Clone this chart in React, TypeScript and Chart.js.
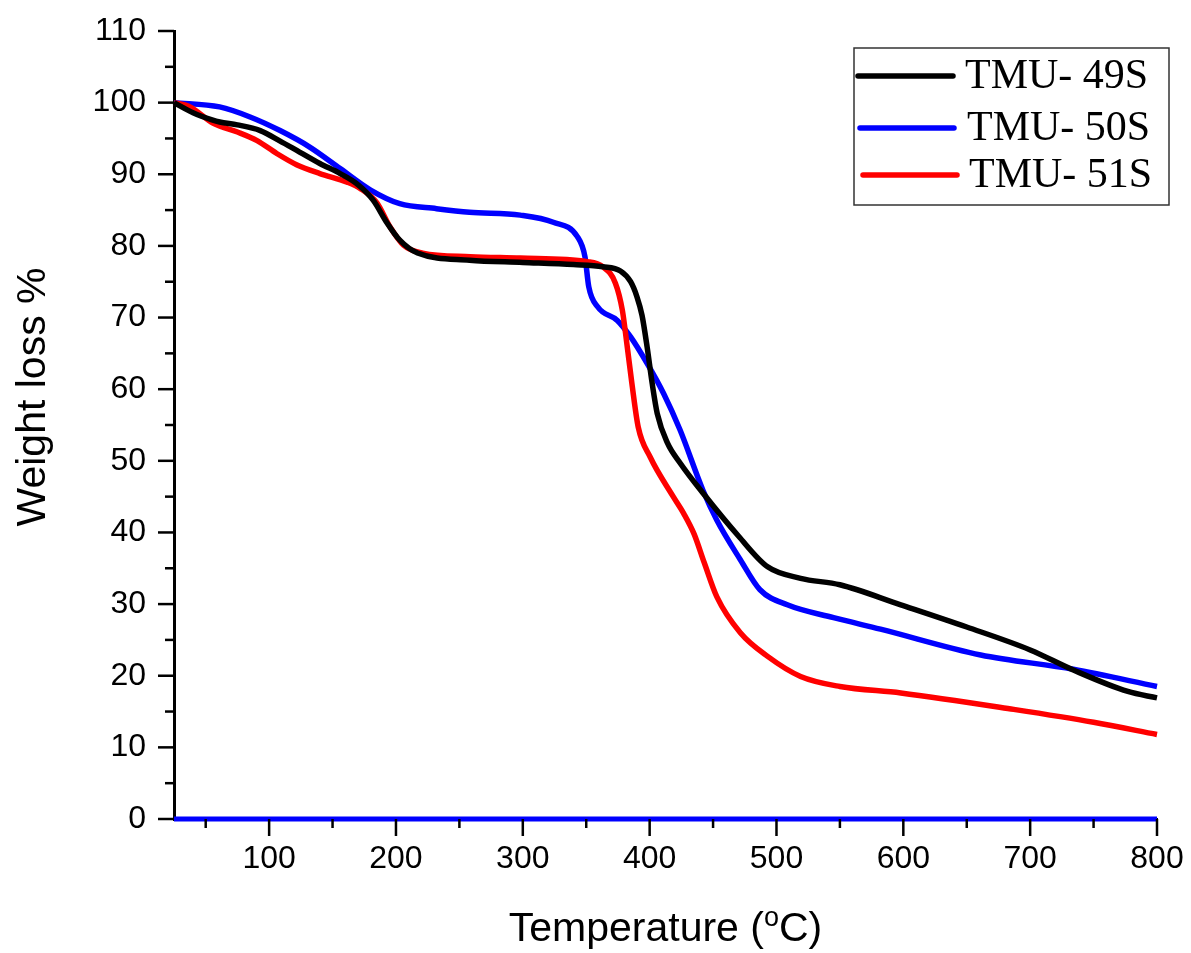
import React, { useEffect, useRef } from "react";
import { Chart, registerables } from "chart.js";

Chart.register(...registerables);

// ---- data ----
const xTickValues = [100, 200, 300, 400, 500, 600, 700, 800];
const yTickValues = [0, 10, 20, 30, 40, 50, 60, 70, 80, 90, 100, 110];

const tmu49Temp = [25, 40, 55, 61, 75, 93, 108, 124, 140, 156, 169, 182, 193, 203, 217, 258, 300, 340, 363, 377, 385, 390, 394, 398, 402, 406, 414, 424, 442, 470, 493, 519, 550, 598, 650, 700, 734, 777, 800];
const tmu49Weight = [100, 98.6, 97.6, 97.3, 96.9, 96.1, 94.7, 93.1, 91.5, 90.1, 88.7, 86.4, 83.2, 80.8, 79.0, 78.0, 77.7, 77.4, 77.1, 76.5, 75.0, 72.9, 70.3, 65.9, 60.8, 56.6, 52.5, 49.7, 45.5, 39.5, 35.2, 33.6, 32.7, 29.9, 26.8, 23.6, 20.8, 17.8, 16.9];

const tmu50Temp = [25, 61, 85, 108.6, 132, 156, 180, 203, 232, 258, 298, 324, 343, 349, 352, 359, 374.5, 385, 398, 411, 424, 442, 453, 471.5, 487, 508.5, 545, 582, 661, 734, 800];
const tmu50Weight = [100, 99.4, 98.0, 96.1, 93.8, 90.8, 87.8, 85.9, 85.2, 84.7, 84.3, 83.3, 81.3, 78.5, 74.3, 71.5, 69.6, 67.3, 63.6, 59.4, 54.3, 45.9, 41.7, 36.2, 32.0, 29.9, 28.1, 26.5, 22.9, 20.9, 18.5];

const tmu51Temp = [25, 37.6, 56, 75, 90.5, 106, 122, 140, 161.5, 172, 185, 195.5, 206, 221, 258.5, 298, 351, 363, 373, 378.5, 382, 386, 391, 400.5, 418.6, 427, 435, 443, 453, 471.5, 493, 519, 550, 598, 687, 750, 800];
const tmu51Weight = [100, 99.4, 97.1, 95.9, 94.7, 92.9, 91.3, 90.1, 88.9, 88.0, 86.0, 82.6, 80.1, 79.0, 78.5, 78.3, 77.8, 77.1, 74.8, 71.0, 66.4, 60.8, 54.7, 50.5, 45.0, 42.6, 39.8, 35.8, 31.0, 26.0, 22.7, 19.9, 18.5, 17.6, 15.3, 13.5, 11.8];

const baselineTemp = [25, 800];
const baselineWeight = [0, 0];

const seriesLabels = ["TMU- 49S", "TMU- 50S", "TMU- 51S"];
const seriesColors = ["#000000", "#0000ff", "#ff0000"];

const X_MIN = 25;
const X_MAX = 800;
const Y_MIN = 0;
const Y_MAX = 110;

const SANS = "'Liberation Sans', Arial, sans-serif";
const SERIF = "'Liberation Serif', 'Times New Roman', serif";

function pairs(t: number[], w: number[]) {
  return t.map((x, i) => ({ x, y: w[i] }));
}

const decorPlugin = {
  id: "decor",
  afterDraw(chart: any) {
    const { ctx, chartArea } = chart;
    const xs = chart.scales.x;
    const ys = chart.scales.y;
    ctx.save();
    ctx.strokeStyle = "#000";
    ctx.lineWidth = 2.5;
    ctx.lineCap = "butt";
    // x ticks (major every 100, minor every 50)
    for (let v = 50; v <= X_MAX; v += 50) {
      if (v < X_MIN) continue;
      const px = xs.getPixelForValue(v);
      const len = v % 100 === 0 ? 17 : 9;
      ctx.beginPath();
      ctx.moveTo(px, chartArea.bottom);
      ctx.lineTo(px, chartArea.bottom + len);
      ctx.stroke();
    }
    // y ticks (major every 10, minor every 5)
    for (let v = Y_MIN; v <= Y_MAX; v += 5) {
      const py = ys.getPixelForValue(v);
      const len = v % 10 === 0 ? 16 : 9;
      ctx.beginPath();
      ctx.moveTo(chartArea.left - len, py);
      ctx.lineTo(chartArea.left, py);
      ctx.stroke();
    }

    // y axis title
    ctx.fillStyle = "#000";
    ctx.save();
    ctx.translate(45, 397);
    ctx.rotate(-Math.PI / 2);
    ctx.font = `41px ${SANS}`;
    ctx.textAlign = "center";
    ctx.textBaseline = "alphabetic";
    ctx.fillText("Weight loss %", 0, 0);
    ctx.restore();

    // x axis title with superscript o
    const cx = (chartArea.left + chartArea.right) / 2;
    const base = 941;
    const p1 = "Temperature (";
    const p2 = "o";
    const p3 = "C)";
    ctx.textAlign = "left";
    ctx.textBaseline = "alphabetic";
    ctx.font = `41px ${SANS}`;
    const w1 = ctx.measureText(p1).width;
    const w3 = ctx.measureText(p3).width;
    ctx.font = `27px ${SANS}`;
    const w2 = ctx.measureText(p2).width;
    let sx = cx - (w1 + w2 + w3) / 2;
    ctx.font = `41px ${SANS}`;
    ctx.fillText(p1, sx, base);
    sx += w1;
    ctx.font = `27px ${SANS}`;
    ctx.fillText(p2, sx, base - 15);
    sx += w2;
    ctx.font = `41px ${SANS}`;
    ctx.fillText(p3, sx, base);

    // legend box
    const bx = chartArea.right - 303;
    const by = chartArea.top + 17;
    const bw = 315;
    const bh = 157;
    ctx.strokeStyle = "#333";
    ctx.lineWidth = 1.5;
    ctx.strokeRect(bx, by, bw, bh);
    ctx.font = `42px ${SERIF}`;
    ctx.textBaseline = "middle";
    ctx.lineCap = "round";
    const rowY = [by + 28, by + 80, by + 127];
    const lineX = [[bx + 4, bx + 99], [bx + 6, bx + 100], [bx + 9, bx + 103]];
    const textX = [bx + 111, bx + 113, bx + 115];
    for (let i = 0; i < seriesLabels.length; i++) {
      ctx.strokeStyle = seriesColors[i];
      ctx.lineWidth = 5.5;
      ctx.beginPath();
      ctx.moveTo(lineX[i][0], rowY[i]);
      ctx.lineTo(lineX[i][1], rowY[i]);
      ctx.stroke();
      ctx.fillStyle = "#000";
      ctx.fillText(seriesLabels[i], textX[i], rowY[i] + 1);
    }
    ctx.restore();
  },
};

export default function App() {
  const canvasRef = useRef<HTMLCanvasElement | null>(null);

  useEffect(() => {
    document.body.style.margin = "0";
    const canvas = canvasRef.current;
    if (!canvas) return;

    const lineDs = (label: string, t: number[], w: number[], color: string) => ({
      label,
      data: pairs(t, w),
      borderColor: color,
      backgroundColor: color,
      borderWidth: 5.5,
      pointRadius: 0,
      pointHoverRadius: 0,
      cubicInterpolationMode: "monotone" as const,
      fill: false,
      clip: 8,
    });

    const chart = new Chart(canvas, {
      type: "line",
      data: {
        datasets: [
          { ...lineDs("baseline", baselineTemp, baselineWeight, seriesColors[1]), borderWidth: 5 },
          lineDs(seriesLabels[0], tmu49Temp, tmu49Weight, seriesColors[0]),
          lineDs(seriesLabels[2], tmu51Temp, tmu51Weight, seriesColors[2]),
          lineDs(seriesLabels[1], tmu50Temp, tmu50Weight, seriesColors[1]),
        ],
      },
      options: {
        animation: false,
        responsive: true,
        maintainAspectRatio: false,
        layout: { padding: { left: 0, right: 34, top: 31, bottom: 0 } },
        plugins: {
          legend: { display: false },
          tooltip: { enabled: false },
          title: { display: false },
        },
        scales: {
          x: {
            type: "linear",
            min: X_MIN,
            max: X_MAX,
            afterBuildTicks: (s: any) => {
              s.ticks = xTickValues.map((v) => ({ value: v }));
            },
            afterFit: (s: any) => {
              s.height = 134;
              s.paddingLeft = 0;
              s.paddingRight = 0;
            },
            ticks: {
              font: { family: SANS, size: 32 },
              color: "#000",
              padding: 21,
              maxRotation: 0,
              autoSkip: false,
            },
            grid: { display: false, drawTicks: false },
            border: { display: true, color: "#000", width: 3 },
          },
          y: {
            type: "linear",
            min: Y_MIN,
            max: Y_MAX,
            afterBuildTicks: (s: any) => {
              s.ticks = yTickValues.map((v) => ({ value: v }));
            },
            afterFit: (s: any) => {
              s.width = 174;
              s.paddingTop = 0;
              s.paddingBottom = 0;
            },
            ticks: {
              font: { family: SANS, size: 32 },
              color: "#000",
              padding: 28,
              autoSkip: false,
            },
            grid: { display: false, drawTicks: false },
            border: { display: true, color: "#000", width: 3 },
          },
        },
      },
      plugins: [decorPlugin],
    });

    return () => chart.destroy();
  }, []);

  return (
    <div style={{ position: "relative", width: 1191, height: 953, background: "#fff" }}>
      <canvas ref={canvasRef} />
    </div>
  );
}
